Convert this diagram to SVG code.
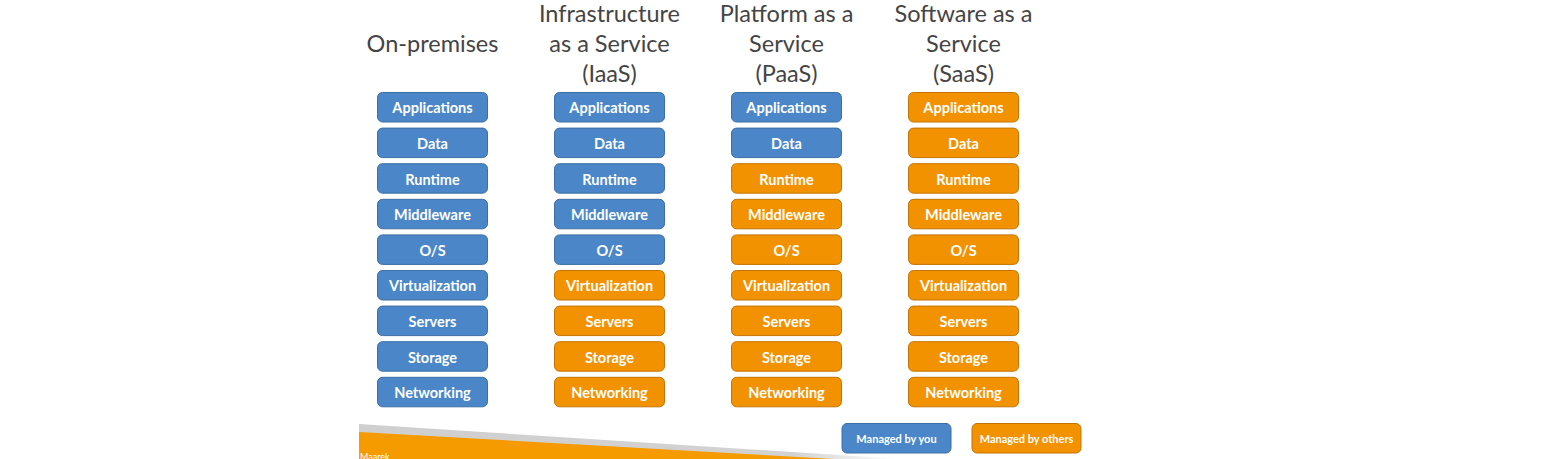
<svg xmlns="http://www.w3.org/2000/svg" width="1548" height="459" viewBox="0 0 1548 459">
<defs>
<style>
.t{font-family:Lato,"Open Sans",sans-serif;font-weight:400;font-size:23.5px;fill:#444;text-anchor:middle}
.b rect{stroke-width:1}
.me rect{fill:#4A86C8;stroke:#3B6EA5}
.ot rect{fill:#F39200;stroke:#C37400}
.b text{font-family:Lato,"Open Sans",sans-serif;font-weight:700;font-size:14.5px;fill:#fff;text-anchor:middle}
.lg text{font-family:Lato,"Open Sans",sans-serif;font-weight:700;font-size:11px;fill:#fff;text-anchor:middle}
</style>
<linearGradient id="gf" x1="0" y1="0" x2="1" y2="0">
<stop offset="0" stop-color="#cfcfcf"/>
<stop offset="0.8" stop-color="#d2d2d2"/>
<stop offset="1" stop-color="#ffffff"/>
</linearGradient>
</defs>
<rect width="1548" height="459" fill="#fff"/>
<g id="footer">
<polygon points="359,424 900,459 359,459" fill="url(#gf)"/>
<polygon points="359,432 834,459 359,459" fill="#F59B00"/>
<text x="360" y="460" font-family="Lato,sans-serif" font-size="9" fill="#fff">Maarek</text>
</g>
<g id="titles">
<text class="t" x="432.5" y="52">On-premises</text>
<text class="t" x="609.5" y="22">Infrastructure</text>
<text class="t" x="609.5" y="52">as a Service</text>
<text class="t" x="609.5" y="82">(IaaS)</text>
<text class="t" x="786.5" y="22">Platform as a</text>
<text class="t" x="786.5" y="52">Service</text>
<text class="t" x="786.5" y="82">(PaaS)</text>
<text class="t" x="963.5" y="22">Software as a</text>
<text class="t" x="963.5" y="52">Service</text>
<text class="t" x="963.5" y="82">(SaaS)</text>
</g>
<g id="col-onprem">
<g id="op-1" class="b me"><rect x="377.5" y="92.5" width="110" height="29.5" rx="5"/><text x="432.5" y="113.3">Applications</text></g>
<g id="op-2" class="b me"><rect x="377.5" y="128.1" width="110" height="29.5" rx="5"/><text x="432.5" y="148.9">Data</text></g>
<g id="op-3" class="b me"><rect x="377.5" y="163.7" width="110" height="29.5" rx="5"/><text x="432.5" y="184.5">Runtime</text></g>
<g id="op-4" class="b me"><rect x="377.5" y="199.3" width="110" height="29.5" rx="5"/><text x="432.5" y="220.1">Middleware</text></g>
<g id="op-5" class="b me"><rect x="377.5" y="234.9" width="110" height="29.5" rx="5"/><text x="432.5" y="255.7">O/S</text></g>
<g id="op-6" class="b me"><rect x="377.5" y="270.5" width="110" height="29.5" rx="5"/><text x="432.5" y="291.3">Virtualization</text></g>
<g id="op-7" class="b me"><rect x="377.5" y="306.1" width="110" height="29.5" rx="5"/><text x="432.5" y="326.9">Servers</text></g>
<g id="op-8" class="b me"><rect x="377.5" y="341.7" width="110" height="29.5" rx="5"/><text x="432.5" y="362.5">Storage</text></g>
<g id="op-9" class="b me"><rect x="377.5" y="377.3" width="110" height="29.5" rx="5"/><text x="432.5" y="398.1">Networking</text></g>
</g>
<g id="col-iaas">
<g id="ia-1" class="b me"><rect x="554.5" y="92.5" width="110" height="29.5" rx="5"/><text x="609.5" y="113.3">Applications</text></g>
<g id="ia-2" class="b me"><rect x="554.5" y="128.1" width="110" height="29.5" rx="5"/><text x="609.5" y="148.9">Data</text></g>
<g id="ia-3" class="b me"><rect x="554.5" y="163.7" width="110" height="29.5" rx="5"/><text x="609.5" y="184.5">Runtime</text></g>
<g id="ia-4" class="b me"><rect x="554.5" y="199.3" width="110" height="29.5" rx="5"/><text x="609.5" y="220.1">Middleware</text></g>
<g id="ia-5" class="b me"><rect x="554.5" y="234.9" width="110" height="29.5" rx="5"/><text x="609.5" y="255.7">O/S</text></g>
<g id="ia-6" class="b ot"><rect x="554.5" y="270.5" width="110" height="29.5" rx="5"/><text x="609.5" y="291.3">Virtualization</text></g>
<g id="ia-7" class="b ot"><rect x="554.5" y="306.1" width="110" height="29.5" rx="5"/><text x="609.5" y="326.9">Servers</text></g>
<g id="ia-8" class="b ot"><rect x="554.5" y="341.7" width="110" height="29.5" rx="5"/><text x="609.5" y="362.5">Storage</text></g>
<g id="ia-9" class="b ot"><rect x="554.5" y="377.3" width="110" height="29.5" rx="5"/><text x="609.5" y="398.1">Networking</text></g>
</g>
<g id="col-paas">
<g id="pa-1" class="b me"><rect x="731.5" y="92.5" width="110" height="29.5" rx="5"/><text x="786.5" y="113.3">Applications</text></g>
<g id="pa-2" class="b me"><rect x="731.5" y="128.1" width="110" height="29.5" rx="5"/><text x="786.5" y="148.9">Data</text></g>
<g id="pa-3" class="b ot"><rect x="731.5" y="163.7" width="110" height="29.5" rx="5"/><text x="786.5" y="184.5">Runtime</text></g>
<g id="pa-4" class="b ot"><rect x="731.5" y="199.3" width="110" height="29.5" rx="5"/><text x="786.5" y="220.1">Middleware</text></g>
<g id="pa-5" class="b ot"><rect x="731.5" y="234.9" width="110" height="29.5" rx="5"/><text x="786.5" y="255.7">O/S</text></g>
<g id="pa-6" class="b ot"><rect x="731.5" y="270.5" width="110" height="29.5" rx="5"/><text x="786.5" y="291.3">Virtualization</text></g>
<g id="pa-7" class="b ot"><rect x="731.5" y="306.1" width="110" height="29.5" rx="5"/><text x="786.5" y="326.9">Servers</text></g>
<g id="pa-8" class="b ot"><rect x="731.5" y="341.7" width="110" height="29.5" rx="5"/><text x="786.5" y="362.5">Storage</text></g>
<g id="pa-9" class="b ot"><rect x="731.5" y="377.3" width="110" height="29.5" rx="5"/><text x="786.5" y="398.1">Networking</text></g>
</g>
<g id="col-saas">
<g id="sa-1" class="b ot"><rect x="908.5" y="92.5" width="110" height="29.5" rx="5"/><text x="963.5" y="113.3">Applications</text></g>
<g id="sa-2" class="b ot"><rect x="908.5" y="128.1" width="110" height="29.5" rx="5"/><text x="963.5" y="148.9">Data</text></g>
<g id="sa-3" class="b ot"><rect x="908.5" y="163.7" width="110" height="29.5" rx="5"/><text x="963.5" y="184.5">Runtime</text></g>
<g id="sa-4" class="b ot"><rect x="908.5" y="199.3" width="110" height="29.5" rx="5"/><text x="963.5" y="220.1">Middleware</text></g>
<g id="sa-5" class="b ot"><rect x="908.5" y="234.9" width="110" height="29.5" rx="5"/><text x="963.5" y="255.7">O/S</text></g>
<g id="sa-6" class="b ot"><rect x="908.5" y="270.5" width="110" height="29.5" rx="5"/><text x="963.5" y="291.3">Virtualization</text></g>
<g id="sa-7" class="b ot"><rect x="908.5" y="306.1" width="110" height="29.5" rx="5"/><text x="963.5" y="326.9">Servers</text></g>
<g id="sa-8" class="b ot"><rect x="908.5" y="341.7" width="110" height="29.5" rx="5"/><text x="963.5" y="362.5">Storage</text></g>
<g id="sa-9" class="b ot"><rect x="908.5" y="377.3" width="110" height="29.5" rx="5"/><text x="963.5" y="398.1">Networking</text></g>
</g>
<g id="legend-you" class="b me lg"><rect x="842" y="423.5" width="109" height="29.5" rx="5"/><text x="896.5" y="442.5">Managed by you</text></g>
<g id="legend-others" class="b ot lg"><rect x="972" y="423.5" width="109" height="29.5" rx="5"/><text x="1026.5" y="442.5">Managed by others</text></g>
<g id="connectors"/>
</svg>
